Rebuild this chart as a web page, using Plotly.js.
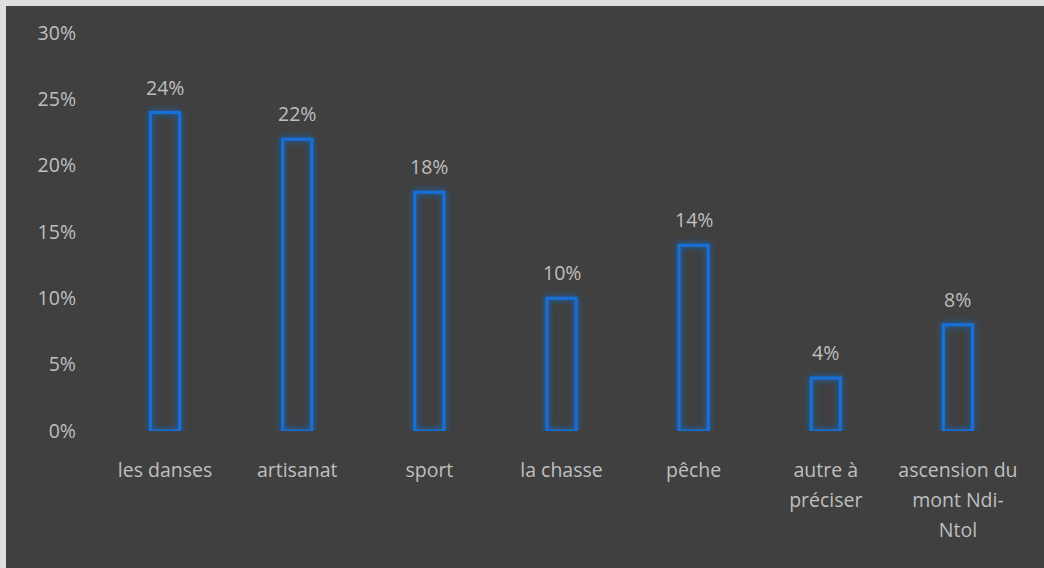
<!DOCTYPE html>
<html><head><meta charset="utf-8">
<script src="https://cdn.plot.ly/plotly-3.0.1.min.js"></script>
<style>
html,body{margin:0;padding:0;background:#dedede;width:1044px;height:568px;overflow:hidden;}
#chart{position:absolute;left:6px;top:6px;width:1038px;height:562px;}
.bars .point path{filter:url(#glow);}
</style></head><body>
<svg width="0" height="0" style="position:absolute">
<defs>
<filter id="glow" x="-50%" y="-50%" width="200%" height="200%">
<feGaussianBlur in="SourceGraphic" stdDeviation="3" result="b"/>
<feMerge><feMergeNode in="b"/><feMergeNode in="SourceGraphic"/></feMerge>
</filter>
</defs></svg>
<div id="chart"></div>
<script>
const categories = ['les danses','artisanat','sport','la chasse','pêche','autre à<br>préciser','ascension du<br>mont Ndi-<br>Ntol'];
const values = [0.24,0.22,0.18,0.10,0.14,0.04,0.08];
const valueLabels = ['24%','22%','18%','10%','14%','4%','8%'];
const yTicks = [0,0.05,0.10,0.15,0.20,0.25,0.30];
const yTickLabels = ['0%','5%','10%','15%','20%','25%','30%'];

const font = {family:'Open Sans, sans-serif', size:19.5, color:'#bfbfbf'};
const trace = {
  type:'bar', x:categories, y:values, width:0.22,
  marker:{color:'rgba(0,0,0,0)', line:{color:'#1470dc', width:3}},
  hoverinfo:'none'
};
const annotations = categories.map((c,i)=>({
  x:c, y:values[i], text:valueLabels[i], showarrow:false,
  yanchor:'bottom', yshift:10, font:font
}));
const layout = {
  width:1038, height:562,
  paper_bgcolor:'#404040', plot_bgcolor:'#404040',
  margin:{l:93, r:20, t:27, b:137},
  font:font, showlegend:false,
  bargap:0.78,
  xaxis:{showgrid:false, zeroline:false, showline:false, ticks:'', ticklabelstandoff:25, tickfont:font, fixedrange:true},
  yaxis:{range:[0,0.30], tickvals:yTicks, ticktext:yTickLabels, showgrid:false, zeroline:false, showline:false, ticks:'', ticklabelstandoff:22, tickfont:font},
  annotations:annotations
};
Plotly.newPlot('chart',[trace],layout,{displayModeBar:false,staticPlot:true}).then(()=>{
  document.querySelectorAll('.xtick text tspan.line').forEach(t=>{
    const dy = t.getAttribute('dy');
    if (dy && dy.endsWith('em')) {
      t.setAttribute('dy', (parseFloat(dy)*1.55/1.3)+'em');
    }
  });
});
</script></body></html>
